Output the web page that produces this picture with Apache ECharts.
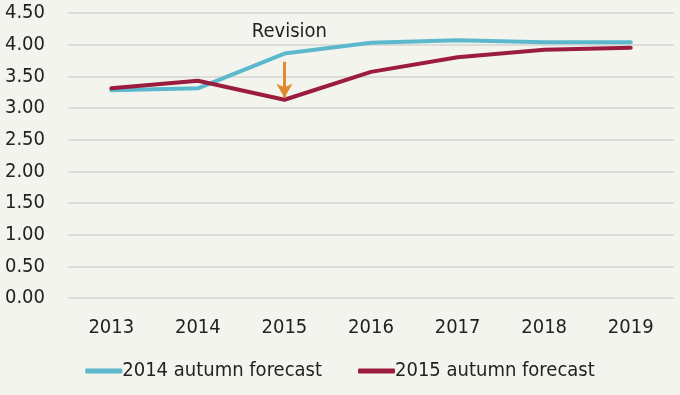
<!DOCTYPE html>
<html>
<head>
<meta charset="utf-8">
<script src="https://cdn.jsdelivr.net/npm/echarts@6/dist/echarts.min.js"></script>
<style>
html,body{margin:0;padding:0;background:#f4f4ef;}
#c{width:680px;height:395px;}
</style>
</head>
<body>
<div id="c"></div>
<script>
var categories = ['2013','2014','2015','2016','2017','2018','2019'];
var forecast2014 = [3.28, 3.31, 3.86, 4.03, 4.07, 4.04, 4.04];
var forecast2015 = [3.31, 3.43, 3.13, 3.57, 3.80, 3.92, 3.95];
var seriesNames = ['2014 autumn forecast', '2015 autumn forecast'];
var revisionLabel = 'Revision';
var revisionAt = '2015';
var revisionTextValue = 4.2;
var arrowFrom = 3.73;
var arrowTo = 3.16;

var FONT = "'DejaVu Sans Condensed', 'Liberation Sans Narrow', Roboto, sans-serif";
var chart = echarts.init(document.getElementById('c'), null, {renderer:'canvas'});
chart.setOption({
  backgroundColor: '#f4f4ef',
  animation: false,
  grid: {left: 68, right: 6, top: 13, bottom: 97},
  legend: {
    data: seriesNames,
    bottom: 9,
    left: 'center',
    itemWidth: 37, itemHeight: 5,
    itemGap: 36,
    icon: 'roundRect',
    textStyle: {fontFamily: FONT, fontSize: 20, color: '#222', padding: [0,0,0,-5]}
  },
  xAxis: {
    type: 'category',
    data: categories,
    boundaryGap: true,
    axisLine: {show: false},
    axisTick: {show: false},
    axisLabel: {fontFamily: FONT, fontSize: 20, color: '#222', margin: 20}
  },
  yAxis: {
    type: 'value',
    min: 0, max: 4.5, interval: 0.5,
    axisLine: {show: false},
    axisTick: {show: false},
    axisLabel: {fontFamily: FONT, fontSize: 20, color: '#222', margin: 23,
      formatter: function(v){return v.toFixed(2);}},
    splitLine: {lineStyle: {color: '#dcdcd8', width: 2}}
  },
  series: [
    {
      name: seriesNames[0], type: 'line', data: forecast2014,
      symbol: 'none', color: '#5cb8cc',
      lineStyle: {width: 4, color: '#5cb8cc', cap: 'round', join: 'round'},
      markPoint: {
        symbol: 'rect', symbolSize: 0,
        label: {show: true, formatter: revisionLabel, fontFamily: FONT, fontSize: 20, color: '#222', position: 'inside', offset: [5, 0]},
        data: [{coord: [revisionAt, revisionTextValue]}]
      }
    },
    {
      name: seriesNames[1], type: 'line', data: forecast2015,
      symbol: 'none', color: '#9b1c3e',
      lineStyle: {width: 4, color: '#9b1c3e', cap: 'round', join: 'round'},
      markLine: {
        silent: true,
        symbol: ['none', 'arrow'],
        symbolSize: [12, 14],
        label: {show: false},
        lineStyle: {color: '#e08b2c', width: 3, type: 'solid'},
        data: [[{coord: [revisionAt, arrowFrom]}, {coord: [revisionAt, arrowTo]}]]
      }
    }
  ]
});
</script>
</body>
</html>
